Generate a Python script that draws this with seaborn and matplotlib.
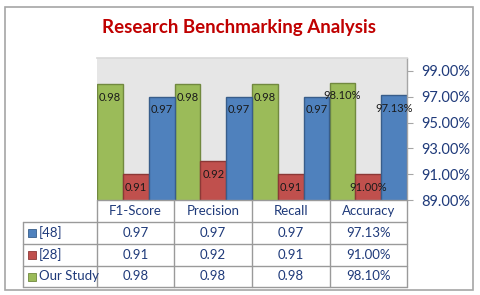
import matplotlib
matplotlib.use("Agg")
import matplotlib.pyplot as plt
from matplotlib.patches import Rectangle
from matplotlib.lines import Line2D
import seaborn as sns
import pandas as pd

# ---- data ----
categories = ["F1-Score", "Precision", "Recall", "Accuracy"]
series = ["Our Study", "[28]", "[48]"]
our_study = [98.0, 98.0, 98.0, 98.10]
ref28 = [91.0, 92.0, 91.0, 91.00]
ref48 = [97.0, 97.0, 97.0, 97.13]
label_our = ["0.98", "0.98", "0.98", "98.10%"]
label_28 = ["0.91", "0.92", "0.91", "91.00%"]
label_48 = ["0.97", "0.97", "0.97", "97.13%"]
yticks = [89, 91, 93, 95, 97, 99]
title = "Research Benchmarking Analysis"

colors = {"Our Study": "#9BBB59", "[28]": "#C0504D", "[48]": "#4F81BD"}
edges = {"Our Study": "#71893F", "[28]": "#8C3836", "[48]": "#385D8A"}
text_col = "#1F3A7A"
W, H = 480, 295

rows = []
for s, vals in zip(series, [our_study, ref28, ref48]):
    for c, v in zip(categories, vals):
        rows.append({"category": c, "series": s, "value": v})
df = pd.DataFrame(rows)

sns.set_theme(style="white")
plt.rcParams["font.family"] = ["Lato", "DejaVu Sans"]

fig = plt.figure(figsize=(W / 100, H / 100), dpi=100)

def fx(px):
    return px / W

def fy(py):
    return 1 - py / H

# outer border
fig.add_artist(Rectangle((fx(5), fy(290)), fx(468), (283) / H, transform=fig.transFigure,
                         fill=False, edgecolor="#A6A6A6", lw=1.2))

# title
fig.text(fx(239), fy(28), title, ha="center", va="center", color="#C00000",
         fontsize=13.5, fontweight="bold")

ax_l, ax_r, ax_t, ax_b = 97, 407, 58, 200
ax = fig.add_axes([fx(ax_l), fy(ax_b), fx(ax_r - ax_l), (ax_b - ax_t) / H])
ax.set_facecolor("#E6E6E6")

sns.barplot(data=df, x="category", y="value", hue="series", order=categories,
            hue_order=series, palette=colors, width=1.0, ax=ax, legend=False,
            saturation=1)

labels_all = [label_our, label_28, label_48]
for cont, s, labs in zip(ax.containers, series, labels_all):
    for p, lab in zip(cont.patches, labs):
        p.set_edgecolor(edges[s])
        p.set_linewidth(1.0)
        x = p.get_x() + p.get_width() / 2
        y = p.get_height()
        ax.annotate(lab, (x, y), xytext=(0, -9.5), textcoords="offset points",
                    ha="center", va="center", fontsize=8, color="#1a1a1a",
                    annotation_clip=False)

ax.set_ylim(89, 100)
ax.set_xlim(-0.5, 3.5)
ax.set_yticks(yticks)
ax.set_yticklabels([f"{t:.2f}%" for t in yticks])
ax.yaxis.tick_right()
ax.tick_params(axis="y", right=True, left=False, length=4, width=0.8, color="#A6A6A6",
               labelsize=10.5, labelcolor=text_col, pad=6)
ax.set_xticks([])
ax.set_xlabel("")
ax.set_ylabel("")
for side in ["left", "bottom"]:
    ax.spines[side].set_visible(False)
ax.spines["top"].set_color("#D9D9D9")
ax.spines["right"].set_color("#A6A6A6")
ax.spines["right"].set_linewidth(1.0)

# ---- data table ----
col_edges = [97, 174, 252, 330, 407]
row_edges = [200, 222, 244, 266, 287]
lab_left = 23
lc = "#9A9A9A"
tfs = 9.5

def hline(y, x0, x1):
    fig.add_artist(Line2D([fx(x0), fx(x1)], [fy(y), fy(y)], color=lc, lw=1.0,
                          transform=fig.transFigure))

def vline(x, y0, y1):
    fig.add_artist(Line2D([fx(x), fx(x)], [fy(y0), fy(y1)], color=lc, lw=1.0,
                          transform=fig.transFigure))

hline(row_edges[0], col_edges[0], col_edges[-1])
for y in row_edges[1:]:
    hline(y, lab_left, col_edges[-1])
for x in col_edges:
    vline(x, row_edges[0], row_edges[-1])
vline(lab_left, row_edges[1], row_edges[-1])

for i, c in enumerate(categories):
    cx = (col_edges[i] + col_edges[i + 1]) / 2
    cy = (row_edges[0] + row_edges[1]) / 2
    fig.text(fx(cx), fy(cy), c, ha="center", va="center", fontsize=tfs, color=text_col)

table_rows = [("[48]", label_48), ("[28]", label_28), ("Our Study", label_our)]
for r, (name, labs) in enumerate(table_rows):
    cy = (row_edges[r + 1] + row_edges[r + 2]) / 2
    fig.add_artist(Rectangle((fx(28), fy(cy + 4)), fx(8), 8 / H, transform=fig.transFigure,
                             facecolor=colors[name], edgecolor=edges[name], lw=0.6))
    fig.text(fx(39), fy(cy), name, ha="left", va="center", fontsize=tfs, color=text_col)
    for i, lab in enumerate(labs):
        cx = (col_edges[i] + col_edges[i + 1]) / 2
        fig.text(fx(cx), fy(cy), lab, ha="center", va="center", fontsize=tfs, color=text_col)

fig.savefig("out.png", dpi=100)
